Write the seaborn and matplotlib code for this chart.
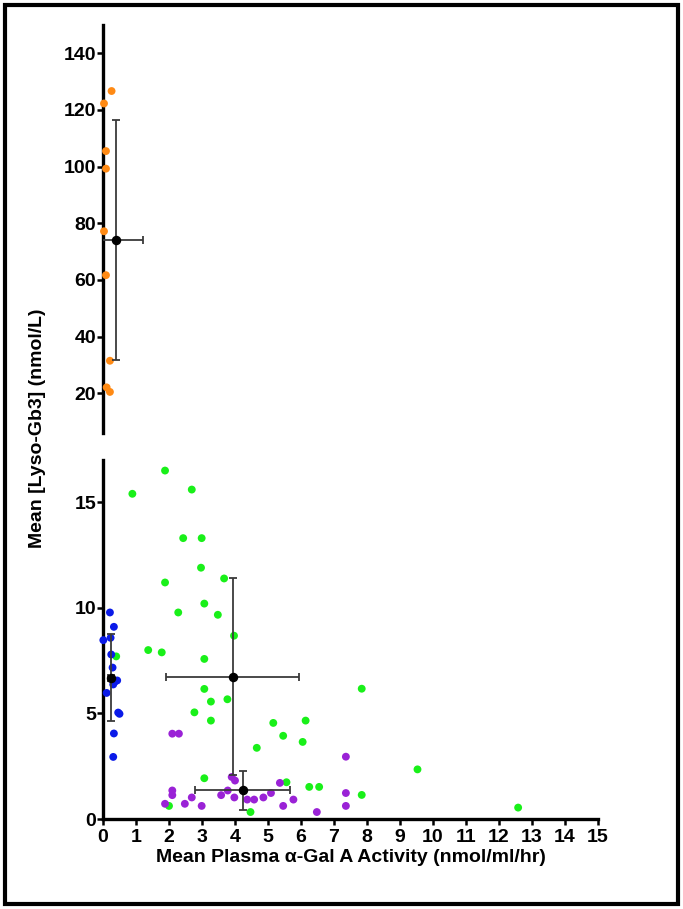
import matplotlib
matplotlib.use("Agg")
import matplotlib.pyplot as plt
import seaborn as sns
import pandas as pd
from matplotlib.patches import Rectangle

# individual patients, grouped by colour
orange_x = [0.26, 0.03, 0.09, 0.09, 0.03, 0.09, 0.21, 0.11, 0.21]
orange_y = [126.7, 122.3, 105.5, 99.3, 77.2, 61.7, 31.5, 22.1, 20.5]

blue_x = [0.21, 0.01, 0.23, 0.33, 0.25, 0.29, 0.43, 0.31, 0.36, 0.11, 0.46, 0.50, 0.33, 0.31]
blue_y = [9.78, 8.47, 8.58, 9.10, 7.79, 7.17, 6.56, 6.37, 6.50, 5.97, 5.04, 4.98, 4.05, 2.94]

green_x = [0.89, 1.88, 2.69, 2.43, 2.99, 2.97, 1.88, 3.67, 3.07, 2.28, 3.48, 3.97,
           1.37, 1.78, 3.07, 3.07, 3.27, 3.77, 2.77, 3.27, 5.16, 6.14, 5.46, 6.05,
           4.66, 7.84, 3.07, 5.56, 6.25, 6.55, 7.84, 2.00, 4.47, 9.53, 12.58, 0.40]
green_y = [15.4, 16.5, 15.6, 13.3, 13.3, 11.9, 11.2, 11.39, 10.2, 9.78, 9.67, 8.68,
           8.0, 7.89, 7.58, 6.16, 5.56, 5.67, 5.05, 4.66, 4.55, 4.66, 3.94, 3.65,
           3.37, 6.17, 1.93, 1.74, 1.52, 1.52, 1.14, 0.62, 0.33, 2.35, 0.54, 7.70]

purple_x = [2.10, 2.30, 7.36, 3.90, 4.00, 5.36, 2.10, 2.10, 3.78, 3.58, 3.98, 5.09,
            4.86, 4.37, 4.58, 5.77, 2.69, 7.36, 1.88, 2.48, 2.99, 5.46, 7.36, 6.48]
purple_y = [4.04, 4.04, 2.95, 1.99, 1.82, 1.71, 1.35, 1.13, 1.35, 1.13, 1.02, 1.23,
            1.02, 0.92, 0.92, 0.92, 1.02, 1.23, 0.72, 0.72, 0.62, 0.62, 0.62, 0.33]

# group means with error bars (x mean, x err, y mean, y err)
top_mean = [0.38, 0.84, 74.0, 42.4]
bottom_means_x = [0.24, 3.93, 4.23]
bottom_err_x = [0.08, 2.02, 1.44]
bottom_means_y = [6.70, 6.74, 1.35]
bottom_err_y = [2.05, 4.66, 0.93]

colours = {"orange": "#FF8A14", "blue": "#0A1AE8", "green": "#19F019", "purple": "#9A22D6"}

sns.set_style("ticks")
plt.rcParams["font.family"] = ["Liberation Sans", "DejaVu Sans"]
plt.rcParams["font.weight"] = "bold"
plt.rcParams["text.color"] = "black"
plt.rcParams["xtick.color"] = "black"
plt.rcParams["ytick.color"] = "black"
plt.rcParams["axes.edgecolor"] = "black"
plt.rcParams["axes.labelcolor"] = "black"

W, H = 683, 909
fig = plt.figure(figsize=(W / 100, H / 100), dpi=100)

left, right = 103, 598
ax_top = fig.add_axes([left / W, 1 - 433 / H, (right - left) / W, (433 - 25) / H])
ax_bot = fig.add_axes([left / W, 1 - 819 / H, (right - left) / W, (819 - 460) / H])

top_df = pd.DataFrame({"x": orange_x, "y": orange_y})
sns.scatterplot(data=top_df, x="x", y="y", ax=ax_top, color=colours["orange"],
                s=32, edgecolor="none", clip_on=False, zorder=3)
ax_top.errorbar(top_mean[0], top_mean[2], xerr=top_mean[1], yerr=top_mean[3],
                fmt="o", color="black", ms=5.8, ecolor="#3a3a3a", elinewidth=1.3,
                capsize=3, capthick=1.3, zorder=4)

bot_df = pd.concat([
    pd.DataFrame({"x": green_x, "y": green_y, "g": "green"}),
    pd.DataFrame({"x": blue_x, "y": blue_y, "g": "blue"}),
    pd.DataFrame({"x": purple_x, "y": purple_y, "g": "purple"}),
])
sns.scatterplot(data=bot_df, x="x", y="y", hue="g", palette=colours, ax=ax_bot,
                s=32, edgecolor="none", clip_on=False, legend=False, zorder=3)
ax_bot.errorbar(bottom_means_x, bottom_means_y, xerr=bottom_err_x, yerr=bottom_err_y,
                fmt="o", color="black", ms=5.8, ecolor="#3a3a3a", elinewidth=1.3,
                capsize=3, capthick=1.3, zorder=4)

for ax in (ax_top, ax_bot):
    ax.set_xlim(0, 15)
    ax.set_xlabel("")
    ax.set_ylabel("")
    for s in ("top", "right"):
        ax.spines[s].set_visible(False)
    ax.spines["left"].set_linewidth(2.4)
    ax.spines["bottom"].set_linewidth(2.4)
    ax.tick_params(direction="out", length=4, width=1.8, labelsize=14, pad=1)

ax_top.set_ylim(6, 150)
ax_top.set_yticks([20, 40, 60, 80, 100, 120, 140])
ax_top.spines["bottom"].set_visible(False)
ax_top.tick_params(axis="x", bottom=False, labelbottom=False)

ax_bot.set_ylim(0, 17)
ax_bot.set_yticks([0, 5, 10, 15])
ax_bot.set_xticks(range(0, 16))
ax_bot.tick_params(axis="x", pad=3)
ax_bot.set_xlabel("Mean Plasma \u03b1-Gal A Activity (nmol/ml/hr)", fontsize=14,
                  fontweight="bold", labelpad=2)
for ax in (ax_top, ax_bot):
    for lab in ax.get_yticklabels() + ax.get_xticklabels():
        lab.set_fontweight("bold")

fig.text(38 / W, 1 - 428 / H, "Mean [Lyso-Gb3] (nmol/L)", rotation=90,
         ha="center", va="center", fontsize=14, fontweight="bold")

fig.patches.append(Rectangle((5 / W, 5 / H), (W - 10) / W, (H - 10) / H,
                             transform=fig.transFigure, fill=False,
                             edgecolor="black", linewidth=3))

fig.savefig("out.png", dpi=100)
